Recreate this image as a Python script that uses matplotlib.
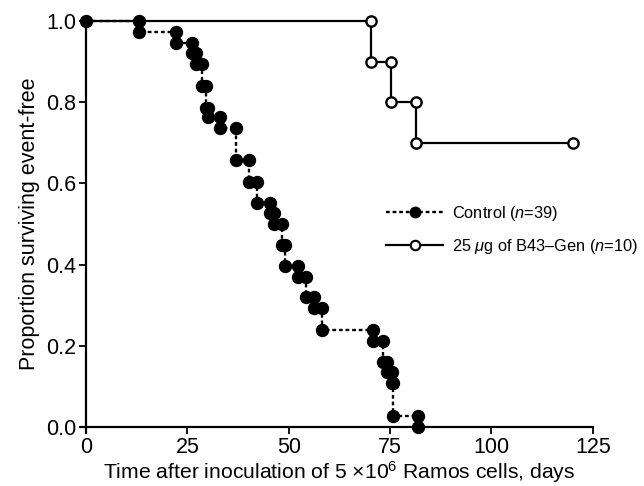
import matplotlib
matplotlib.use("Agg")
import matplotlib.pyplot as plt
from matplotlib.lines import Line2D

plt.rcParams['font.family'] = ['Liberation Sans', 'DejaVu Sans']
plt.rcParams['mathtext.fontset'] = 'custom'
plt.rcParams['mathtext.rm'] = 'Liberation Sans'
plt.rcParams['mathtext.it'] = 'Liberation Sans:italic'

# ---- data ----
ctrl_times = [13.1, 22.1, 26.2, 27.1, 28.5, 29.6, 30.2, 33.1, 37.1, 40.2, 42.3,
              45.5, 46.4, 48.3, 49.2, 52.4, 54.3, 56.3, 58.2, 70.9, 73.3,
              74.2, 75.4, 75.8, 82.0]
ctrl_surv = [0.974, 0.946, 0.921, 0.893, 0.840, 0.786, 0.763, 0.736, 0.657,
             0.604, 0.552, 0.527, 0.500, 0.448, 0.397, 0.369, 0.320, 0.293,
             0.240, 0.212, 0.161, 0.135, 0.108, 0.026, 0.0]

trt_times = [70.2, 75.2, 81.3]
trt_surv = [0.9, 0.8, 0.7]
trt_last_followup = 120.0

x_ticks = [0, 25, 50, 75, 100, 125]
y_ticks = [0.0, 0.2, 0.4, 0.6, 0.8, 1.0]
ctrl_label = r"Control ($n$=39)"
trt_label = r"25 $\mu$g of B43–Gen ($n$=10)"
x_label = r"Time after inoculation of 5 $\times$10$^{6}$ Ramos cells, days"
y_label = "Proportion surviving event-free"


def km_vertices(times, surv, end=None):
    xs, ys = [0.0], [1.0]
    prev = 1.0
    for t, s in zip(times, surv):
        xs += [t, t]
        ys += [prev, s]
        prev = s
    if end is not None:
        xs.append(end)
        ys.append(prev)
    return xs, ys


fig = plt.figure(figsize=(6.44, 4.86), dpi=100)
ax = fig.add_axes([0.1335, 0.1214, 0.787, 0.8354])

cx, cy = km_vertices(ctrl_times, ctrl_surv)
tx, ty = km_vertices(trt_times, trt_surv, trt_last_followup)

dash = (0, (1.6, 1.2))
ax.plot(tx, ty, color='black', lw=1.6, solid_capstyle='butt', clip_on=False, zorder=2)
ax.plot(cx, cy, color='black', lw=1.7, linestyle=dash, clip_on=False, zorder=3)
ax.plot(cx, cy, linestyle='none', marker='o', markersize=8.6, color='black',
        clip_on=False, zorder=4)
ax.plot(tx[1:], ty[1:], linestyle='none', marker='o', markersize=7.4,
        markerfacecolor='white', markeredgecolor='black', markeredgewidth=1.7,
        clip_on=False, zorder=5)

ax.set_xlim(0, 125)
ax.set_ylim(0, 1.0)
ax.set_xticks(x_ticks)
ax.set_yticks(y_ticks)
ax.set_xticklabels([str(v) for v in x_ticks])
ax.set_yticklabels([f"{v:.1f}" for v in y_ticks])

for side in ('top', 'right'):
    ax.spines[side].set_visible(False)
for side in ('left', 'bottom'):
    ax.spines[side].set_linewidth(1.6)
ax.spines['left'].set_bounds(-0.015, 1.0)
ax.spines['bottom'].set_bounds(-1.2, 125)

ax.tick_params(axis='both', direction='out', length=5, width=1.3,
               labelsize=15.5, colors='black', pad=2)
ax.set_xlabel(x_label, fontsize=15.2, labelpad=1)
ax.set_ylabel(y_label, fontsize=15.5, labelpad=4)

handles = [
    Line2D([], [], color='black', lw=1.7, linestyle=dash, marker='o',
           markersize=7.5, markerfacecolor='black'),
    Line2D([], [], color='black', lw=1.6, marker='o', markersize=6.8,
           markerfacecolor='white', markeredgecolor='black', markeredgewidth=1.5),
]
leg = ax.legend(handles, [ctrl_label, trt_label], loc='upper left',
                bbox_to_anchor=(386 / 644, 1 - 204 / 486),
                bbox_transform=fig.transFigure, frameon=False, fontsize=11.8,
                handlelength=3.5, handletextpad=0.5, labelspacing=0.85,
                borderpad=0, borderaxespad=0)

fig.savefig("out.png", dpi=100)
